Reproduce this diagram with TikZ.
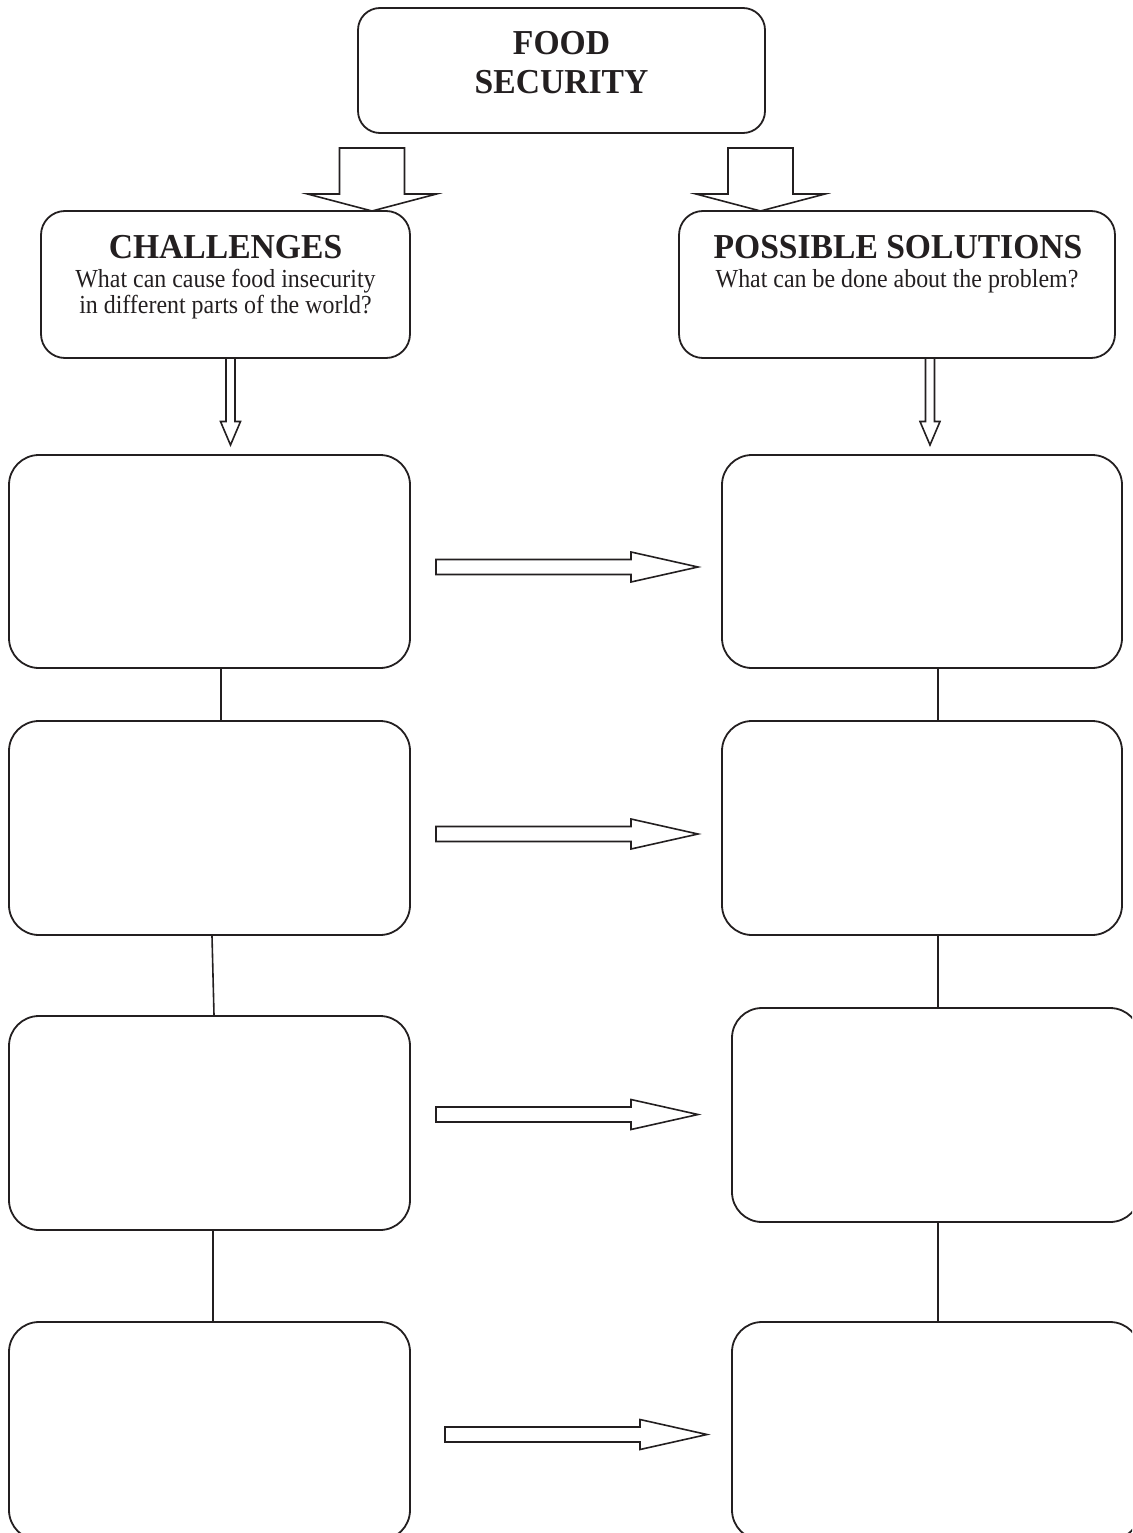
\documentclass[tikz,border=0pt]{standalone}
\usepackage{fontspec}
\setmainfont{Liberation Serif}
\newfontfamily\headfont[FakeStretch=0.96]{Liberation Serif}
\newfontfamily\subfont[FakeStretch=0.92]{Liberation Serif}
\usetikzlibrary{positioning}

\definecolor{ink}{HTML}{231F20}

\tikzset{
    box/.style={draw=ink, line width=1.8pt, rounded corners=30pt, minimum width=401pt, minimum height=213pt},
    headbox/.style={draw=ink, line width=1.8pt, rounded corners=24pt, minimum height=147pt},
    title/.style={anchor=base, inner sep=0pt, font=\headfont\bfseries\fontsize{35}{36}\selectfont, text=ink},
    sub/.style={anchor=base, inner sep=0pt, font=\subfont\fontsize{26}{26}\selectfont, text=ink},
    link/.style={draw=ink, line width=1.6pt},
    hollow/.style={draw=ink, line width=1.6pt, fill=white},
}

% #1 start, #2 angle, #3 shaft length, #4 shaft half width, #5 head length, #6 head half width
\newcommand{\hollowarrow}[6]{%
    \draw[hollow, shift={#1}, rotate=#2] (0,#4) -- (#3,#4) -- (#3,#6) -- (#3+#5,0)
        -- (#3,-#6) -- (#3,-#4) -- (0,-#4) -- cycle;}

\begin{document}
\begin{tikzpicture}[x=1pt, y=1pt]
    \useasboundingbox (0,0) rectangle (1132,-1533);
    \clip (0,0) rectangle (1132,-1533);

    \node [headbox, rounded corners=22pt, minimum width=407pt, minimum height=125pt] (food) at (561.5,-70.5) {};
    \node [title] (foodA) at (561.5,-55) {FOOD};
    \node [title] (foodB) at (561.5,-94) {SECURITY};

    \node [headbox, minimum width=369pt] (chal) at (225.5,-284.5) {};
    \node [title] (chalT) at (225.5,-258) {CHALLENGES};
    \node [sub] (chalA) at (225.5,-287) {What can cause food insecurity};
    \node [sub] (chalB) at (225.5,-313) {in different parts of the world?};

    \node [headbox, minimum width=436pt] (sol) at (897,-284.5) {};
    \node [title] (solT) at (898,-258) {POSSIBLE SOLUTIONS};
    \node [sub] (solA) at (897,-287) {What can be done about the problem?};

    \hollowarrow{(372,-148)}{-90}{46}{32.5}{17}{64.5}
    \hollowarrow{(760.5,-148)}{-90}{46}{32.5}{17}{64.5}
    \hollowarrow{(230.5,-358)}{-90}{63.5}{4.5}{23.5}{10}
    \hollowarrow{(930,-358)}{-90}{63.5}{4.5}{23.5}{10}

    % challenges column
    \node [box] (c1) at (209.5,-561.5) {};
    \node [box, minimum height=214pt] (c2) at (209.5,-828) {};
    \node [box, minimum height=214pt] (c3) at (209.5,-1123) {};
    \node [box, minimum height=218pt] (c4) at (209.5,-1431) {};

    % solutions column
    \node [box, minimum width=400pt] (s1) at (922,-561.5) {};
    \node [box, minimum width=400pt, minimum height=214pt] (s2) at (922,-828) {};
    \node [box, minimum width=408pt, minimum height=214pt] (s3) at (936,-1115) {};
    \node [box, minimum width=408pt, minimum height=218pt] (s4) at (936,-1431) {};

    \draw [link] ([xshift=11.5pt]c1.south) -- ([xshift=11.5pt]c2.north);
    \draw [link] ([xshift=2.5pt]c2.south) -- ([xshift=4.5pt]c3.north);
    \draw [link] ([xshift=3.5pt]c3.south) -- ([xshift=3.5pt]c4.north);
    \draw [link] ([xshift=16pt]s1.south) -- ([xshift=16pt]s2.north);
    \draw [link] ([xshift=16pt]s2.south) -- ([xshift=2pt]s3.north);
    \draw [link] ([xshift=2pt]s3.south) -- ([xshift=2pt]s4.north);

    \hollowarrow{(436,-567)}{0}{195}{7.5}{67}{15}
    \hollowarrow{(436,-834)}{0}{195}{7.5}{67}{15}
    \hollowarrow{(436,-1114.5)}{0}{195}{7.5}{67}{15}
    \hollowarrow{(445,-1434.5)}{0}{195}{7.5}{67}{15}
\end{tikzpicture}
\end{document}
